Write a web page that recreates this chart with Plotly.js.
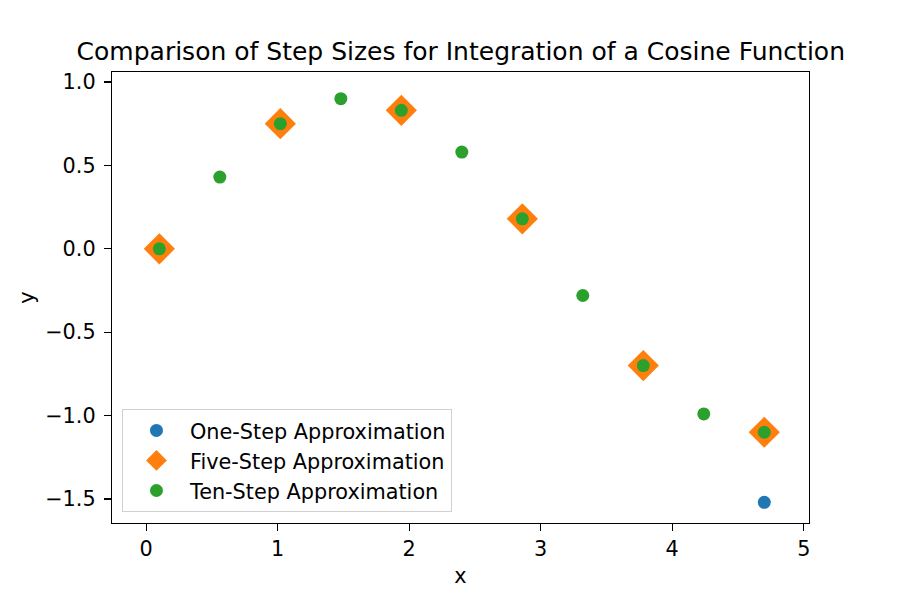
<!DOCTYPE html>
<html>
<head>
<meta charset="utf-8">
<script src="https://cdn.plot.ly/plotly-3.0.1.min.js"></script>
<style>html,body{margin:0;padding:0;background:#fff;}</style>
</head>
<body>
<div id="chart" style="width:900px;height:600px;"></div>
<script>
const oneStepX = [4.7];
const oneStepY = [-1.52];

const fiveStepX = [0.1, 1.02, 1.94, 2.86, 3.78, 4.7];
const fiveStepY = [0.0, 0.75, 0.83, 0.18, -0.70, -1.10];

const tenStepX = [0.1, 0.56, 1.02, 1.48, 1.94, 2.40, 2.86, 3.32, 3.78, 4.24, 4.70];
const tenStepY = [0.0, 0.43, 0.75, 0.90, 0.83, 0.58, 0.18, -0.28, -0.70, -0.99, -1.10];

const xTicks = [0, 1, 2, 3, 4, 5];
const yTicks = [-1.5, -1.0, -0.5, 0.0, 0.5, 1.0];

const FONT = 'DejaVu Sans, sans-serif';

const traces = [
  {
    x: oneStepX, y: oneStepY, mode: 'markers', type: 'scatter',
    name: 'One-Step Approximation', legendgroup: 'a',
    marker: {color: '#1f77b4', size: 13, symbol: 'circle'}
  },
  {
    x: fiveStepX, y: fiveStepY, mode: 'markers', type: 'scatter',
    name: 'Five-Step Approximation', legendgroup: 'b',
    marker: {color: '#ff7f0e', size: 24, symbol: 'diamond'}
  },
  {
    x: tenStepX, y: tenStepY, mode: 'markers', type: 'scatter',
    name: 'Ten-Step Approximation', legendgroup: 'c',
    marker: {color: '#2ca02c', size: 13, symbol: 'circle'}
  }
];

const axisCommon = {
  showline: true, mirror: true, linecolor: '#000', linewidth: 1.2,
  showgrid: false, zeroline: false,
  ticks: 'outside', ticklen: 7, tickwidth: 1.2, tickcolor: '#000',
  tickfont: {family: FONT, size: 20.8, color: '#000'}
};

const layout = {
  width: 900, height: 600,
  margin: {l: 112, r: 91, t: 72, b: 77},
  paper_bgcolor: '#fff', plot_bgcolor: '#fff',
  font: {family: FONT, color: '#000'},
  title: {
    text: 'Comparison of Step Sizes for Integration of a Cosine Function',
    font: {family: FONT, size: 25, color: '#000'},
    x: 0.512, xanchor: 'center', y: 0.915, yanchor: 'middle'
  },
  xaxis: Object.assign({}, axisCommon, {
    range: [-0.26, 5.04],
    tickvals: xTicks, ticktext: xTicks.map(v => String(v)),
    title: {text: 'x', font: {family: FONT, size: 20.8, color: '#000'}, standoff: 8}
  }),
  yaxis: Object.assign({}, axisCommon, {
    range: [-1.644, 1.06],
    ticklabelstandoff: 4,
    tickvals: yTicks, ticktext: yTicks.map(v => (v < 0 ? '\u2212' : '') + Math.abs(v).toFixed(1)),
    title: {text: 'y', font: {family: FONT, size: 20.8, color: '#000'}, standoff: 4}
  }),
  showlegend: true,
  legend: {
    x: 0.014, xanchor: 'left', y: 0.024, yanchor: 'bottom',
    bgcolor: 'rgba(255,255,255,0.8)', bordercolor: '#d0d0d0', borderwidth: 1.2,
    font: {family: FONT, size: 20.8, color: '#000'},
    traceorder: 'grouped', tracegroupgap: 0, itemsizing: 'trace', itemwidth: 57
  }
};

Plotly.newPlot('chart', traces, layout, {displayModeBar: false, staticPlot: true});
</script>
</body>
</html>
